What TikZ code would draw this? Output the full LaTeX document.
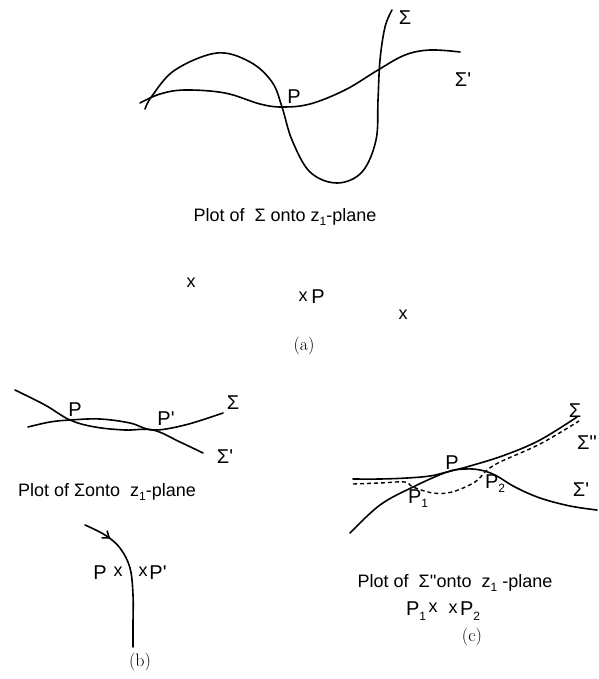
\documentclass[tikz,border=0pt]{standalone}
\usepackage{fontspec}
\newfontfamily\hand{Liberation Sans}
\usetikzlibrary{arrows.meta,decorations.markings}
\newcommand{\subone}[1]{\lower0.4ex\hbox{\fontsize{12}{12}\selectfont #1}}
\tikzset{
  curve/.style={line width=1.6pt, line cap=round},
  dashcurve/.style={line width=1.4pt, dash pattern=on 4pt off 3pt},
  lbl/.style={font=\hand\fontsize{20}{20}\selectfont, inner sep=0pt},
  captxt/.style={font=\hand\fontsize{18}{18}\selectfont, inner sep=0pt},
  sublbl/.style={font=\fontsize{18}{20}\selectfont, inner sep=0pt},
  mk/.style={font=\hand\fontsize{18}{18}\selectfont, inner sep=0pt}
}
\begin{document}
\begin{tikzpicture}[x=1pt,y=-1pt]
\useasboundingbox[fill=white] (0,0) rectangle (598,679);
% ---------- panel (a)
\draw[curve] plot[smooth,tension=0.6] coordinates {(145,109) (152,96) (175,70) (217,53) (250,62) (272,82) (282,107) (292,140) (310,172) (337,183) (362,172) (376,140) (378,100) (380,60) (385,27) (392,10)};
\draw[curve] plot[smooth,tension=0.6] coordinates {(140,103) (160,94) (185,90) (225,93) (260,104) (282,107) (310,104) (345,90) (378,70) (405,55) (430,50) (460,52)};
\node[lbl] (sa) at (405,18) {Σ};
\node[lbl] (spa) at (463,80) {Σ'};
\node[lbl] (pa) at (294,97) {P};
\node[captxt] (capa) at (285,217) {Plot of \ Σ onto z\subone{1}-plane};
\node[mk] (x1) at (191,283) {x};
\node[mk] (x2) at (303,297) {x};
\node[lbl] (pa2) at (318,297) {P};
\node[mk] (x3) at (403,315) {x};
\node[sublbl] (la) at (304,346) {(a)};
% ---------- panel (b)
\draw[curve] plot[smooth,tension=0.6] coordinates {(15,390) (45,405) (70,420) (95,427) (125,430) (153,430) (180,442) (203,453)};
\draw[curve] plot[smooth,tension=0.6] coordinates {(28,427) (50,422) (70,420) (100,419) (130,423) (153,430) (185,425) (223,413)};
\node[lbl] (pb) at (75,410) {P};
\node[lbl] (ppb) at (166,419) {P'};
\node[lbl] (sb) at (233,403) {Σ};
\node[lbl] (spb) at (225,457) {Σ'};
\node[captxt] (capb) at (107,492) {Plot of Σonto \ z\subone{1}-plane};
\draw[curve, postaction={decorate}, decoration={markings, mark=at position 0.2 with {\arrow{Straight Barb[length=6pt,width=9pt]}}}]
  plot[smooth,tension=0.6] coordinates {(85,525) (105,535) (120,548) (130,568) (133,595) (133,625) (133,647)};
\node[lbl] (pb2) at (100,573) {P};
\node[mk] (xb1) at (118,572) {x};
\node[mk] (xb2) at (143,572) {x};
\node[lbl] (ppb2) at (158,573) {P'};
\node[sublbl] (lb) at (140,662) {(b)};
% ---------- panel (c)
\draw[curve] plot[smooth,tension=0.6] coordinates {(353,479) (380,479) (407,478) (430,476) (447,472) (470,466) (505,455) (540,440) (577,417)};
\draw[dashcurve] plot[smooth,tension=0.6] coordinates {(353,484) (380,483) (405,482) (413,487) (433,493) (452,492) (475,482) (486,471) (500,462) (540,444) (579,421)};
\draw[curve] plot[smooth,tension=0.6] coordinates {(350,533) (380,505) (413,487) (447,472) (465,469) (480,470) (495,475) (515,487) (540,498) (570,506) (597,510)};
\node[lbl] (sc) at (575,411) {Σ};
\node[lbl] (ssc) at (587,443) {Σ''};
\node[lbl] (spc) at (581,490) {Σ'};
\node[lbl] (pc) at (452,463) {P};
\node[lbl] (p1c) at (418,499) {P\subone{1}};
\node[lbl] (p2c) at (495,484) {P\subone{2}};
\node[captxt] (capc) at (455,583) {Plot of \ Σ''onto \ z\subone{1} -plane};
\node[lbl] (p1c2) at (416,611) {P\subone{1}};
\node[mk] (xc1) at (433,608) {x};
\node[mk] (xc2) at (453,609) {x};
\node[lbl] (p2c2) at (470,611) {P\subone{2}};
\node[sublbl] (lc) at (472,637) {(c)};
\end{tikzpicture}
\end{document}
